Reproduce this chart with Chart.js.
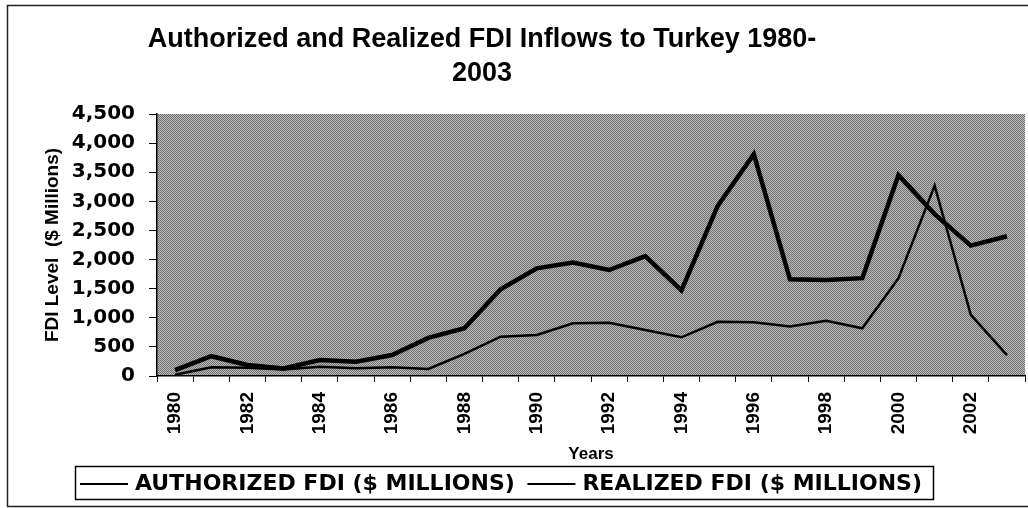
<!DOCTYPE html>
<html>
<head>
<meta charset="utf-8">
<script src="https://cdn.jsdelivr.net/npm/chart.js@4/dist/chart.umd.min.js"></script>
<style>
  html, body { margin: 0; padding: 0; background: #ffffff; overflow: hidden; }
  #wrap { position: absolute; left: 0; top: 0; width: 1040px; height: 508px; }
</style>
</head>
<body>
<div id="wrap"><canvas id="c" width="1040" height="508" style="width:1040px;height:508px"></canvas></div>
<script>
// ---- data ----
const years = ['1980','1981','1982','1983','1984','1985','1986','1987','1988','1989','1990','1991',
               '1992','1993','1994','1995','1996','1997','1998','1999','2000','2001','2002','2003'];
const authorized = [100, 340, 190, 130, 275, 245, 360, 655, 820, 1490, 1850, 1950,
                    1820, 2060, 1470, 2920, 3810, 1660, 1650, 1680, 3450, 2780, 2240, 2400];
const realized   = [20, 150, 140, 110, 160, 135, 150, 120, 380, 675, 705, 905,
                    915, 790, 665, 930, 925, 850, 950, 820, 1680, 3270, 1050, 360];
const seriesNames = ['AUTHORIZED FDI ($ MILLIONS)', 'REALIZED FDI ($ MILLIONS)'];
const titleLines = ['Authorized and Realized FDI Inflows to Turkey 1980-', '2003'];
const yAxisTitle = 'FDI Level  ($ Millions)';
const xAxisTitle = 'Years';
const yMin = 0, yMax = 4500, yStep = 500;

// ---- texture pattern for plot area ----
function makePattern(ctx) {
  const p = document.createElement('canvas');
  p.width = 2; p.height = 2;
  const g = p.getContext('2d');
  g.fillStyle = '#bababa'; g.fillRect(0, 0, 2, 2);
  g.fillStyle = '#727272'; g.fillRect(0, 0, 1, 1); g.fillRect(1, 1, 1, 1);
  return ctx.createPattern(p, 'repeat');
}

const decor = {
  id: 'decor',
  beforeDraw(chart) {
    const ctx = chart.ctx, a = chart.chartArea;
    ctx.save();
    ctx.fillStyle = '#ffffff';
    ctx.fillRect(0, 0, chart.width, chart.height);
    // outer frame
    ctx.strokeStyle = '#222222';
    ctx.lineWidth = 1.5;
    ctx.strokeRect(7.5, 5.5, chart.width + 20, 501);
    // plot background
    ctx.fillStyle = makePattern(ctx);
    ctx.fillRect(a.left, a.top, a.right - a.left, a.bottom - a.top);
    ctx.restore();
  },
  afterDraw(chart) {
    const ctx = chart.ctx;
    ctx.save();
    // title
    ctx.fillStyle = '#000000';
    ctx.font = 'bold 27px "Liberation Sans", Arial, sans-serif';
    ctx.textAlign = 'center';
    ctx.textBaseline = 'middle';
    ctx.fillText(titleLines[0], 482, 40);
    ctx.fillText(titleLines[1], 482, 74);
    // legend
    const bx = 75.5, by = 466.5, bw = 858, bh = 33;
    ctx.fillStyle = '#ffffff';
    ctx.fillRect(bx, by, bw, bh);
    ctx.strokeStyle = '#000000';
    ctx.lineWidth = 1.5;
    ctx.strokeRect(bx, by, bw, bh);
    ctx.font = 'bold 22px "DejaVu Sans", sans-serif';
    ctx.textAlign = 'left';
    ctx.fillStyle = '#000000';
    const cy = by + bh / 2 + 1;
    const ds = chart.data.datasets;
    // item 1 at left, item 2 ending near the right edge of the box
    const w2 = ctx.measureText(ds[1].label).width;
    const starts = [80, 922 - w2 - 55];
    ds.forEach((d, i) => {
      const x = starts[i];
      ctx.beginPath();
      ctx.lineWidth = 2;
      ctx.moveTo(x, cy); ctx.lineTo(x + 48, cy);
      ctx.stroke();
      ctx.fillText(d.label, x + 55, cy);
    });
    ctx.restore();
  }
};

new Chart(document.getElementById('c'), {
  type: 'line',
  data: {
    labels: years,
    datasets: [
      { label: seriesNames[0], data: authorized, borderColor: '#000000', borderWidth: 4.5,
        pointRadius: 0, tension: 0, fill: false },
      { label: seriesNames[1], data: realized, borderColor: '#000000', borderWidth: 2.5,
        pointRadius: 0, tension: 0, fill: false }
    ]
  },
  options: {
    responsive: false,
    animation: false,
    devicePixelRatio: 1,
    layout: { padding: { top: 114, left: 0, right: 10.5, bottom: 0 } },
    plugins: {
      legend: { display: false },
      title: { display: false },
      tooltip: { enabled: false }
    },
    scales: {
      x: {
        offset: true,
        afterFit(s) { s.height = 132; },
        grid: { offset: true, drawOnChartArea: false, drawTicks: true, tickLength: 6,
                color: '#000000', lineWidth: 1 },
        border: { display: true, color: '#000000', width: 1.5 },
        ticks: {
          autoSkip: false, minRotation: 90, maxRotation: 90, padding: 10,
          color: '#000000',
          font: { family: '"Liberation Sans", Arial, sans-serif', size: 19, weight: 'bold' },
          callback(v, i) { return i % 2 === 0 ? years[i] : ''; }
        },
        title: {
          display: true, text: xAxisTitle, color: '#000000',
          font: { family: '"Liberation Sans", Arial, sans-serif', size: 17, weight: 'bold' },
          padding: { top: 0, bottom: 43 }
        }
      },
      y: {
        min: yMin, max: yMax,
        afterFit(s) { s.width = 157; },
        grid: { drawOnChartArea: false, drawTicks: true, tickLength: 8, color: '#000000', lineWidth: 1 },
        border: { display: true, color: '#000000', width: 1.5 },
        ticks: {
          stepSize: yStep, padding: 14, color: '#000000',
          font: { family: '"DejaVu Sans", sans-serif', size: 20, weight: 'bold' },
          callback(v) { return v.toLocaleString('en-US'); }
        },
        title: {
          display: true, text: yAxisTitle, color: '#000000',
          font: { family: '"Liberation Sans", Arial, sans-serif', size: 19, weight: 'bold' },
          padding: { top: 41, bottom: 0 }
        }
      }
    }
  },
  plugins: [decor]
});
</script>
</body>
</html>
